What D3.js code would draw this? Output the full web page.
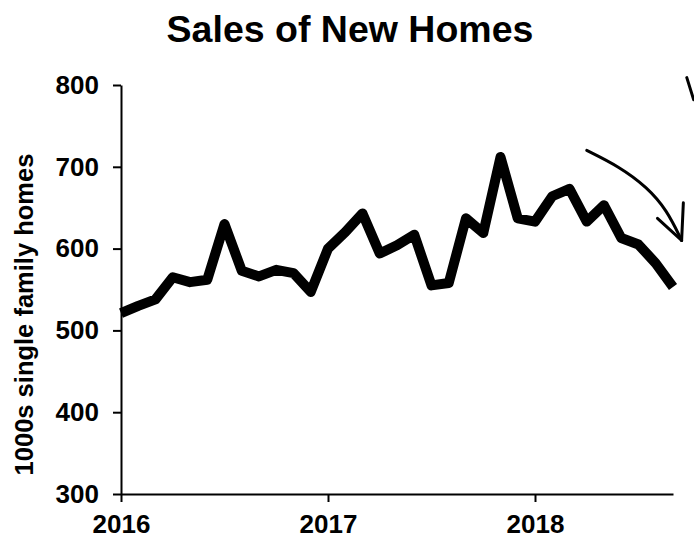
<!DOCTYPE html>
<html>
<head>
<meta charset="utf-8">
<script src="https://cdn.jsdelivr.net/npm/d3@7"></script>
<style>
  body { margin: 0; background: #fff; }
  svg { display: block; }
</style>
</head>
<body>
<div id="chart"></div>
<script>
  // monthly new home sales, Jan 2016 - Sep 2018 (1000s, annual rate)
  const sales = [521, 530, 538, 565, 559, 562, 630, 573, 566, 574, 570, 547,
    600, 620, 643, 594, 604, 617, 555, 558, 637, 619, 712, 637,
    633, 664, 673, 633, 653, 613, 605, 582, 553];
  const yearLabels = ['2016', '2017', '2018'];
  const yearTicks = [0, 12, 24];
  const yTicks = [300, 400, 500, 600, 700, 800];

  // hand-drawn arrow, in [month index, value]
  const arrowCurve = [[27.0, 720], [28.9, 700], [30.5, 675], [31.65, 647], [32.5, 610]];
  const arrowBarbLeft = [[31.1, 637], [32.5, 610]];
  const arrowBarbRight = [[32.6, 656], [32.5, 610]];
  const cornerStroke = [[32.8, 809], [33.2, 782]];

  const width = 694, height = 538;
  const font = 'Liberation Sans, Arial, sans-serif';

  const svg = d3.select('#chart').append('svg')
    .attr('width', width).attr('height', height);

  const x = d3.scaleLinear().domain([0, 32]).range([121, 673]);
  const y = d3.scaleLinear().domain([300, 800]).range([494, 85]);

  svg.append('text')
    .attr('x', 350).attr('y', 42)
    .attr('text-anchor', 'middle')
    .style('font-family', font).style('font-weight', 'bold')
    .style('font-size', '37.5px')
    .text('Sales of New Homes');

  const yAxis = svg.append('g')
    .attr('transform', `translate(${x(0)},0)`)
    .call(d3.axisLeft(y).tickValues(yTicks).tickSize(8).tickPadding(14).tickSizeOuter(0));
  const xAxis = svg.append('g')
    .attr('transform', `translate(0,${y(300)})`)
    .call(d3.axisBottom(x).tickValues(yearTicks)
      .tickFormat((d, i) => yearLabels[i]).tickSize(8).tickPadding(13).tickSizeOuter(0));

  [yAxis, xAxis].forEach(function (g) {
    g.selectAll('path, line').attr('stroke', '#000').attr('stroke-width', 2);
    g.selectAll('text')
      .attr('fill', '#000')
      .style('font-family', font).style('font-weight', 'bold')
      .style('font-size', '26px');
  });

  svg.append('text')
    .attr('transform', `translate(33,${(y(300) + y(800)) / 2 + 25}) rotate(-90)`)
    .attr('text-anchor', 'middle')
    .style('font-family', font).style('font-weight', 'bold')
    .style('font-size', '25.5px')
    .text('1000s single family homes');

  const line = d3.line()
    .x((d, i) => x(i))
    .y((d) => y(d));

  svg.append('path')
    .datum(sales)
    .attr('fill', 'none')
    .attr('stroke', '#000')
    .attr('stroke-width', 10)
    .attr('stroke-linejoin', 'round')
    .attr('d', line);

  const pen = d3.line()
    .x((d) => x(d[0]))
    .y((d) => y(d[1]))
    .curve(d3.curveBasis);

  [arrowCurve, arrowBarbLeft, arrowBarbRight, cornerStroke].forEach(function (pts) {
    svg.append('path')
      .datum(pts)
      .attr('fill', 'none')
      .attr('stroke', '#000')
      .attr('stroke-width', 3)
      .attr('stroke-linecap', 'round')
      .attr('d', pen);
  });
</script>
</body>
</html>
